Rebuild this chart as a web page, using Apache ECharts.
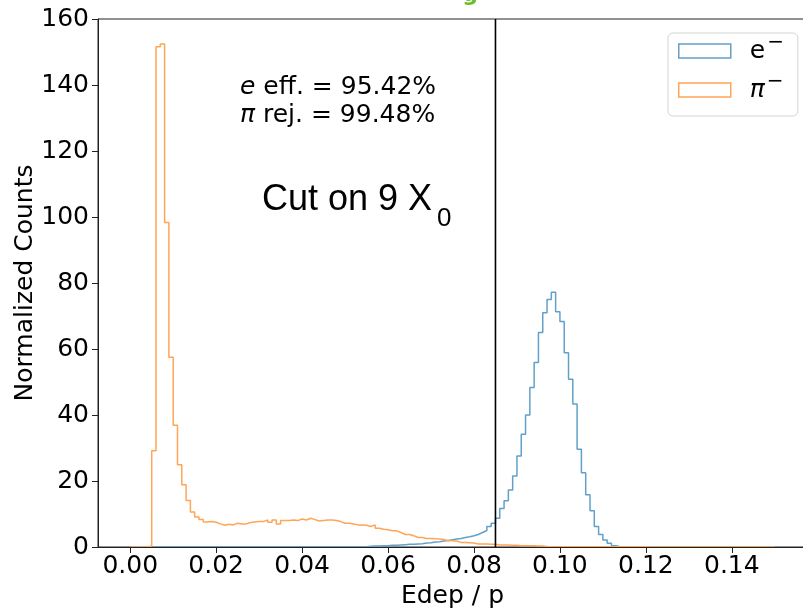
<!DOCTYPE html>
<html><head><meta charset="utf-8">
<script src="https://cdn.jsdelivr.net/npm/echarts@6/dist/echarts.min.js"></script>
<style>html,body{margin:0;padding:0;background:#fff}#c{width:803px;height:610px}</style>
</head><body><div id="c"></div>
<script>
// ---- data ----
const binStart = 0;
const binWidth = 0.001;
const seriesNames = ['e⁻', 'π⁻'];
const electronCounts = [
  0,0,0,0,0,0,0,0,0,0,
  0,0,0,0,0,0,0,0,0,0,
  0,0,0,0,0,0,0,0,0,0,
  0,0,0,0,0,0,0,0,0,0,
  0,0,0,0,0,0,0,0,0,0,
  0,0,0,0.1,0.1,0.2,0.3,0.3,0.4,0.4,
  0.5,0.5,0.6,0.7,0.8,0.8,0.9,1.0,1.2,1.3,
  1.5,1.6,1.8,2.0,2.2,2.4,2.6,2.9,3.1,3.4,
  3.8,4.4,5.0,6.2,7.2,8.7,11.7,14.0,17.3,21.5,
  27.6,34.2,40.0,48.3,55.9,65.0,71.0,75.0,77.2,71.3,
  68.3,58.9,50.8,43.3,29.6,22.5,15.8,11.0,6.2,3.8,
  2.1,1.1,0.4,0.1,0,0,0,0,0,0,
  0,0,0,0,0,0,0,0,0,0,
  0,0,0,0,0,0,0,0,0,0,
  0,0,0,0,0,0,0,0,0,0
];
const pionCounts = [
  0,0,0,0,0.3,29.2,151.6,152.4,98.3,57.5,
  36.9,24.9,18.9,14.1,10.6,9.1,8.3,7.6,7.7,7.5,
  7.0,6.6,6.9,6.7,7.2,7.0,7.0,7.4,7.6,7.7,
  7.7,8.2,7.5,8.2,7.0,8.0,8.0,8.2,8.0,8.5,
  8.2,8.7,8.3,7.9,8.0,8.2,8.2,8.0,7.7,7.2,
  7.2,7.0,6.7,6.7,6.6,6.2,6.7,5.7,5.4,5.2,
  4.9,4.9,4.4,3.8,3.8,3.4,2.9,2.9,2.6,2.6,
  2.5,2.4,2.3,1.9,1.9,1.8,1.4,1.4,1.3,1.2,
  0.9,0.9,0.9,0.8,0.8,0.6,0.6,0.6,0.5,0.5,
  0.4,0.4,0.4,0.35,0.3,0.3,0.15,0.1,0.1,0.1,
  0.05,0.05,0.05,0.05,0.05,0.05,0.05,0.05,0.05,0.05,
  0.04,0.04,0.04,0.04,0.04,0.04,0.04,0.04,0.04,0.04,
  0.03,0.03,0.03,0.03,0.03,0.03,0.03,0.03,0.03,0.03,
  0.03,0.03,0.03,0.03,0.03,0.03,0.03,0.03,0.03,0.03,
  0.03,0.03,0.03,0.03,0.03,0.03,0.03,0.03,0.03,0.03
];
const xTicks = [0.00, 0.02, 0.04, 0.06, 0.08, 0.10, 0.12, 0.14];
const yRange = [0, 160];
const cutValue = 0.085;
const effText = ['e', ' eff. = 95.42%'];
const rejText = ['π', ' rej. = 99.48%'];
const cutText = 'Cut on 9 X';
const cutSub = '0';
const xName = 'Edep / p';
const yName = 'Normalized Counts';

// ---- build ----
function stepData(counts) {
  const pts = [[binStart, 0]];
  counts.forEach((c, i) => pts.push([binStart + i * binWidth, c]));
  pts.push([binStart + counts.length * binWidth, 0]);
  return pts;
}
const FONT = 'DejaVu Sans';
const blue = '#62a0ca', orange = '#ffa556';
const chart = echarts.init(document.getElementById('c'), null, {renderer: 'canvas'});
chart.setOption({
  animation: false,
  backgroundColor: '#fff',
  grid: {left: 98, top: 19, width: 709, height: 528, outerBoundsMode: 'none', containLabel: false,
         show: true, borderColor: '#222', borderWidth: 1, backgroundColor: 'transparent'},
  xAxis: {
    type: 'value', min: -0.0075, max: 0.1575, z: 5,
    axisLine: {show: true, onZero: false, lineStyle: {color: '#222', width: 1}},
    axisTick: {show: true, customValues: xTicks, length: 6, lineStyle: {color: '#222'}},
    axisLabel: {customValues: xTicks, formatter: v => v.toFixed(2), fontSize: 25, fontFamily: FONT, color: '#000', margin: 7},
    splitLine: {show: false},
    name: xName, nameLocation: 'middle', nameGap: 37, nameMoveOverlap: false,
    nameTextStyle: {fontSize: 25, fontFamily: FONT, color: '#000'}
  },
  yAxis: {
    type: 'value', min: yRange[0], max: yRange[1], interval: 20, z: 5,
    axisLine: {show: true, onZero: false, lineStyle: {color: '#222', width: 1}},
    axisTick: {show: true, length: 6, lineStyle: {color: '#222'}},
    axisLabel: {fontSize: 25, fontFamily: FONT, color: '#000', margin: 9},
    splitLine: {show: false},
    name: yName, nameLocation: 'middle', nameGap: 60, nameMoveOverlap: false,
    nameTextStyle: {fontSize: 25, fontFamily: FONT, color: '#000'}
  },
  legend: {
    orient: 'vertical', left: 668, top: 33, selectedMode: false,
    itemWidth: 52, itemHeight: 14, itemGap: 3,
    padding: [0, 14, 8, 10],
    backgroundColor: '#fff', borderColor: '#d4d4d4', borderWidth: 1, borderRadius: 5,
    data: [
      {name: seriesNames[0], icon: 'rect', itemStyle: {color: 'rgba(0,0,0,0)', borderColor: blue, borderWidth: 1.5}},
      {name: seriesNames[1], icon: 'rect', itemStyle: {color: 'rgba(0,0,0,0)', borderColor: orange, borderWidth: 1.5}}
    ],
    formatter: n => n === seriesNames[1] ? '{i|π}{sup|−}' : '{n|e}{sup|−}',
    textStyle: {
      fontSize: 25, lineHeight: 24, color: '#000', fontFamily: FONT, padding: [0, 0, 0, 14],
      rich: {
        i: {fontSize: 25, fontFamily: FONT, fontStyle: 'italic', color: '#000', lineHeight: 24},
        n: {fontSize: 25, fontFamily: FONT, color: '#000', lineHeight: 24},
        sup: {fontSize: 20, fontFamily: FONT, color: '#000', lineHeight: 8, verticalAlign: 'middle', padding: [0, 0, 16, 2]}
      }
    }
  },
  series: [
    {
      name: seriesNames[0], type: 'line', step: 'end', symbol: 'none', showSymbol: false,
      data: stepData(electronCounts), z: 2,
      lineStyle: {color: blue, width: 1.5}, itemStyle: {color: blue}
    },
    {
      name: seriesNames[1], type: 'line', step: 'end', symbol: 'none', showSymbol: false,
      data: stepData(pionCounts), z: 3,
      lineStyle: {color: orange, width: 1.5}, itemStyle: {color: orange}
    },
    {
      name: 'cut', type: 'line', symbol: 'none', showSymbol: false, silent: true, z: 4,
      data: [[cutValue, yRange[0]], [cutValue, yRange[1]]],
      lineStyle: {color: '#000', width: 1.6}, itemStyle: {color: '#000'}
    }
  ],
  graphic: [
    {
      type: 'text', x: 240, y: 73, z: 10,
      style: {
        text: '{i|' + effText[0] + '}{n|' + effText[1] + '}\n{i|' + rejText[0] + '}{n|' + rejText[1] + '}',
        fill: '#000',
        rich: {
          i: {fontSize: 25, fontFamily: FONT, fontStyle: 'italic', lineHeight: 28, fill: '#000'},
          n: {fontSize: 25, fontFamily: FONT, lineHeight: 28, fill: '#000'}
        }
      }
    },
    {
      type: 'text', x: 262, y: 200, z: 10,
      style: {text: cutText, fontSize: 36, fontFamily: 'Liberation Sans', fill: '#000', verticalAlign: 'middle'}
    },
    {
      type: 'text', x: 437, y: 219, z: 10,
      style: {text: cutSub, fontSize: 26, fontFamily: 'Liberation Sans', fill: '#000', verticalAlign: 'middle'}
    },
    {
      type: 'text', x: 470, y: 6, z: 10,
      style: {text: 'g', fontSize: 22, fontWeight: 'bold', fontFamily: FONT, fill: '#6cbd2a', align: 'center', verticalAlign: 'bottom'}
    }
  ]
});
</script>
</body></html>
